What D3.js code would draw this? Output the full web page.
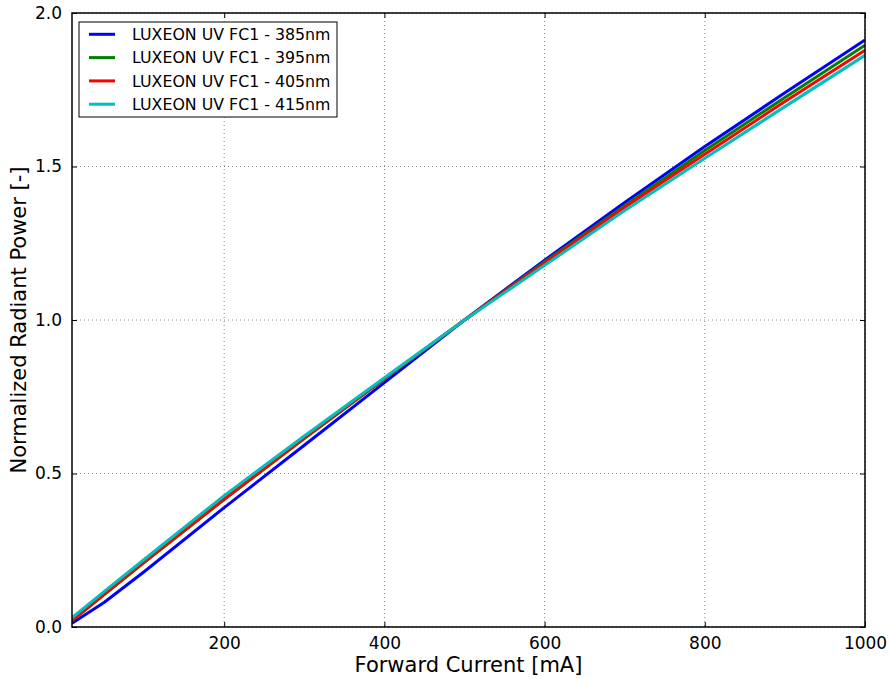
<!DOCTYPE html>
<html>
<head>
<meta charset="utf-8">
<script src="https://cdn.jsdelivr.net/npm/d3@7"></script>
<style>
  html, body { margin: 0; padding: 0; background: #fff; }
  svg { display: block; font-family: "DejaVu Sans", sans-serif; }
</style>
</head>
<body>
<svg id="chart" width="889" height="679"></svg>
<script>
// ---- data ----
const current = [10, 50, 100, 200, 300, 400, 500, 600, 700, 800, 900, 1000];
const p385 = [0.012, 0.080, 0.180, 0.389, 0.592, 0.796, 1.0, 1.195, 1.383, 1.565, 1.740, 1.912];
const p395 = [0.020, 0.105, 0.210, 0.415, 0.614, 0.808, 1.0, 1.190, 1.372, 1.552, 1.725, 1.895];
const p405 = [0.022, 0.107, 0.212, 0.417, 0.616, 0.809, 1.0, 1.186, 1.367, 1.540, 1.712, 1.879];
const p415 = [0.030, 0.115, 0.220, 0.428, 0.622, 0.812, 1.0, 1.178, 1.357, 1.527, 1.695, 1.862];
const seriesNames = ["LUXEON UV FC1 - 385nm", "LUXEON UV FC1 - 395nm", "LUXEON UV FC1 - 405nm", "LUXEON UV FC1 - 415nm"];
const seriesValues = [p385, p395, p405, p415];
const seriesColors = ["#0000ff", "#008000", "#ff0000", "#00bfbf"];
const xTicks = [200, 400, 600, 800, 1000];
const yTicks = [0, 0.5, 1.0, 1.5, 2.0];

// ---- layout ----
const L = 72, R = 865, T = 13, B = 627;
const svg = d3.select("#chart");
const x = d3.scaleLinear().domain([10, 1000]).range([L, R]);
const y = d3.scaleLinear().domain([0, 2]).range([B, T]);

// grid
const grid = svg.append("g");
grid.selectAll("line.gx").data(xTicks).join("line")
  .attr("x1", d => x(d)).attr("x2", d => x(d)).attr("y1", T).attr("y2", B)
  .attr("stroke", "#888").attr("stroke-width", 1).attr("stroke-dasharray", "1,3");
grid.selectAll("line.gy").data(yTicks).join("line")
  .attr("y1", d => y(d)).attr("y2", d => y(d)).attr("x1", L).attr("x2", R)
  .attr("stroke", "#888").attr("stroke-width", 1).attr("stroke-dasharray", "1,3");

// lines
const clip = svg.append("clipPath").attr("id", "clip").append("rect")
  .attr("x", L).attr("y", T).attr("width", R - L).attr("height", B - T);
const line = d3.line().x((d, i) => x(current[i])).y(d => y(d));
svg.append("g").attr("clip-path", "url(#clip)")
  .selectAll("path").data(seriesValues).join("path")
  .attr("d", d => line(d))
  .attr("fill", "none")
  .attr("stroke", (d, i) => seriesColors[i])
  .attr("stroke-width", 3)
  .attr("stroke-linejoin", "round");

// axes (ticks inside)
const fs = 17;
const xAxisB = d3.axisBottom(x).tickValues(xTicks).tickFormat(d3.format("d")).tickSizeInner(-5).tickSizeOuter(0).tickPadding(10);
const gxb = svg.append("g").attr("transform", `translate(0,${B})`).call(xAxisB);
const xAxisT = d3.axisTop(x).tickValues(xTicks).tickFormat("").tickSizeInner(-5).tickSizeOuter(0);
const gxt = svg.append("g").attr("transform", `translate(0,${T})`).call(xAxisT);
const yAxisL = d3.axisLeft(y).tickValues(yTicks).tickFormat(d3.format(".1f")).tickSizeInner(-5).tickSizeOuter(0).tickPadding(10);
const gyl = svg.append("g").attr("transform", `translate(${L},0)`).call(yAxisL);
const yAxisR = d3.axisRight(y).tickValues(yTicks).tickFormat("").tickSizeInner(-5).tickSizeOuter(0);
const gyr = svg.append("g").attr("transform", `translate(${R},0)`).call(yAxisR);
[gxb, gxt, gyl, gyr].forEach(g => {
  g.select(".domain").remove();
  g.selectAll(".tick line").attr("stroke", "#000").attr("stroke-width", 1);
  g.selectAll(".tick text").attr("font-size", fs).attr("font-family", "DejaVu Sans").attr("fill", "#000");
});

// frame
svg.append("rect").attr("x", L).attr("y", T).attr("width", R - L).attr("height", B - T)
  .attr("fill", "none").attr("stroke", "#000").attr("stroke-width", 1.5);

// axis labels
svg.append("text").attr("x", (L + R) / 2 - 0).attr("y", 672)
  .attr("text-anchor", "middle").attr("font-size", 21).text("Forward Current [mA]");
svg.append("text").attr("transform", `translate(26,${(T + B) / 2}) rotate(-90)`)
  .attr("text-anchor", "middle").attr("font-size", 21).text("Normalized Radiant Power [-]");

// legend
const lg = svg.append("g");
lg.append("rect").attr("x", 79).attr("y", 22).attr("width", 258).attr("height", 95)
  .attr("fill", "#fff").attr("stroke", "#000").attr("stroke-width", 1);
const items = lg.selectAll("g.item").data(seriesNames).join("g")
  .attr("transform", (d, i) => `translate(0,${34.3 + i * 23.3})`);
items.append("line").attr("x1", 89).attr("x2", 115).attr("y1", 0).attr("y2", 0)
  .attr("stroke", (d, i) => seriesColors[i]).attr("stroke-width", 3);
items.append("text").attr("x", 132).attr("y", 0).attr("dy", "0.36em")
  .attr("font-size", 15.8).text(d => d);
</script>
</body>
</html>
